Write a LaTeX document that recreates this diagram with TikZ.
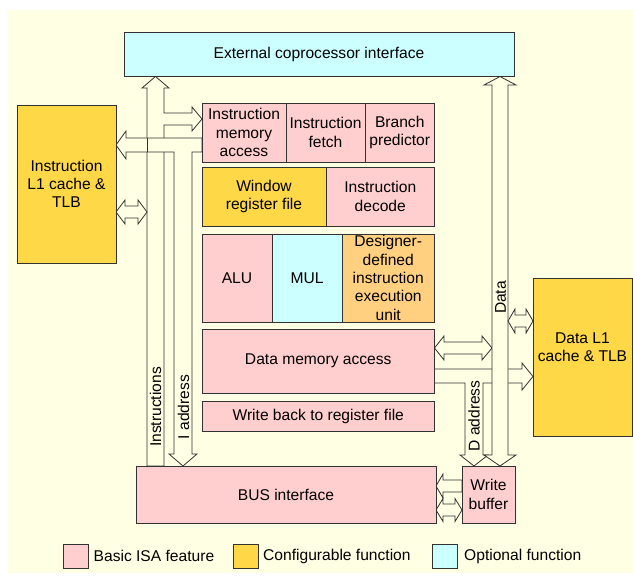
\documentclass[tikz,border=0pt]{standalone}
\usepackage{fontspec}
\setmainfont{Liberation Sans}
\definecolor{bg}{RGB}{255,255,228}
\definecolor{pinkf}{RGB}{255,206,206}
\definecolor{yelf}{RGB}{255,216,72}
\definecolor{cyanf}{RGB}{204,255,255}
\definecolor{orf}{RGB}{255,208,128}
\definecolor{edge}{RGB}{50,50,50}
\begin{document}
\begin{tikzpicture}[x=1pt,y=-1pt,
  box/.style={draw=edge, line width=0.8pt, inner sep=0pt, align=center,
    font=\fontsize{15.6}{18.3}\selectfont},
  harrow/.style={draw=edge, fill=bg, line width=0.8pt, line join=miter},
  lbl/.style={inner sep=0pt, font=\fontsize{15.6}{18.3}\selectfont},
  legsq/.style={draw=edge, line width=0.8pt, minimum width=25pt, minimum height=24pt, inner sep=0pt}]
\useasboundingbox (0,0) rectangle (633,578);
\fill[bg] (7,10) rectangle (633,573);

% Instructions bus with branch to instruction memory access
\draw[harrow] (147,466) -- (147,88) -- (142,88) -- (155.5,76.5) -- (169,88) -- (164,88)
  -- (164,113) -- (192,113) -- (192,107) -- (202,119) -- (192,131) -- (192,125)
  -- (164,125) -- (164,466) -- cycle;
% left arrow to I-cache and I address
\draw[harrow] (202,138) -- (126,138) -- (126,131) -- (116,145) -- (126,159) -- (126,152)
  -- (174,152) -- (174,454) -- (169,454) -- (183,466) -- (197,454) -- (192,454)
  -- (192,152) -- (202,152) -- cycle;
\draw[draw=edge, line width=0.8pt] (147,138) -- (147,152);
% I-cache <-> instructions
\draw[harrow] (116,212) -- (125,200) -- (125,206) -- (138,206) -- (138,200) -- (147,212)
  -- (138,224) -- (138,218) -- (125,218) -- (125,224) -- cycle;

% DMA -> data cache, with D address branch
\draw[harrow] (434.5,369) -- (522,369) -- (522,363) -- (533,376.5) -- (522,390) -- (522,383)
  -- (483,383) -- (483,455) -- (488,455) -- (474,466) -- (460,455) -- (465,455)
  -- (465,383) -- (434.5,383) -- cycle;
% DMA <-> data
\draw[harrow] (434.5,348) -- (444,336) -- (444,342) -- (482,342) -- (482,336) -- (492,348)
  -- (482,360) -- (482,354) -- (444,354) -- (444,360) -- cycle;
% Data bus
\draw[harrow] (492,455) -- (492,85) -- (484,85) -- (500,76.5) -- (516,85) -- (508,85)
  -- (508,455) -- (516,455) -- (500,466) -- (484,455) -- cycle;
% Data <-> data cache
\draw[harrow] (508,321) -- (515,309) -- (515,315) -- (526,315) -- (526,309) -- (533,321)
  -- (526,333) -- (526,327) -- (515,327) -- (515,333) -- cycle;
% Write buffer -> BUS
\draw[harrow] (436,486) -- (443,474) -- (443,480) -- (462,480) -- (462,492) -- (443,492)
  -- (443,498) -- cycle;
% Write buffer <-> BUS
\draw[harrow] (436,510) -- (443,498.5) -- (443,504) -- (455,504) -- (455,498.5) -- (462,510)
  -- (455,521.5) -- (455,516) -- (443,516) -- (443,521.5) -- cycle;

% boxes
\node[box, fill=cyanf, minimum width=390pt, minimum height=44pt] (cop) at (319,54) {External coprocessor interface};
\node[box, fill=pinkf, minimum width=84pt, minimum height=59pt] (ima) at (244,132.5) {Instruction\\memory\\access};
\node[box, fill=pinkf, minimum width=79pt, minimum height=59pt] (ifetch) at (325.5,132.5) {Instruction\\fetch};
\node[box, fill=pinkf, minimum width=69.5pt, minimum height=59pt] (bp) at (399.75,132.5) {Branch\\predictor};
\node[box, fill=yelf, minimum width=124pt, minimum height=59pt] (wrf) at (264,196.5) {Window\\register file};
\node[box, fill=pinkf, minimum width=108.5pt, minimum height=59pt] (idec) at (380.25,196.5) {Instruction\\decode};
\node[box, fill=pinkf, minimum width=70pt, minimum height=88pt] (alu) at (237,278) {ALU};
\node[box, fill=cyanf, minimum width=70pt, minimum height=88pt] (mul) at (307,278) {MUL};
\node[box, fill=orf, minimum width=92.5pt, minimum height=88pt] (ddi) at (388.25,278) {Designer-\\defined\\instruction\\execution\\unit};
\node[box, fill=pinkf, minimum width=232.5pt, minimum height=64pt] (dma) at (318.25,361) {Data memory access};
\node[box, fill=pinkf, minimum width=232.5pt, minimum height=30pt] (wback) at (318.25,416) {Write back to register file};
\node[box, fill=pinkf, minimum width=300pt, minimum height=57pt] (bus) at (286,494.5) {BUS interface};
\node[box, fill=pinkf, minimum width=53pt, minimum height=57pt] (wbuf) at (488.5,494.5) {Write\\buffer};
\node[box, fill=yelf, minimum width=99pt, minimum height=158pt] (icache) at (66.5,184) {Instruction\\L1 cache \&\\TLB};
\node[box, fill=yelf, minimum width=99pt, minimum height=158pt] (dcache) at (582.5,357) {};
\node[lbl, align=center] (dcachetxt) at (582.5,347.5) {Data L1\\cache \& TLB};

% bus labels
\node[lbl, rotate=90] (instrlbl) at (155.5,407) {Instructions};
\node[lbl, rotate=90] (ialbl) at (183.5,407) {I address};
\node[lbl, rotate=90] (dalbl) at (474,416) {D address};
\node[lbl, rotate=90] (datalbl) at (500.5,297.5) {Data};

% legend
\node[legsq, fill=pinkf] (lg1) at (75.5,556) {};
\node[lbl, anchor=west] (lt1) at (93.5,556) {Basic ISA feature};
\node[legsq, fill=yelf] (lg2) at (245.5,556) {};
\node[lbl, anchor=west] (lt2) at (263,556) {Configurable function};
\node[legsq, fill=cyanf] (lg3) at (444.5,556) {};
\node[lbl, anchor=west] (lt3) at (464,556) {Optional function};
\end{tikzpicture}
\end{document}
